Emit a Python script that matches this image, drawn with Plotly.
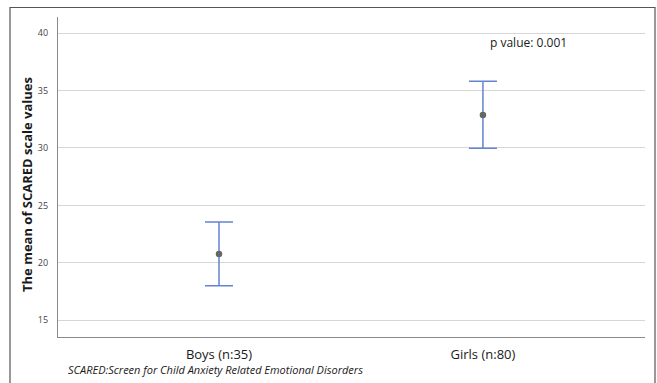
import plotly.graph_objects as go

categories = ["Boys (n:35)", "Girls (n:80)"]
means = [20.78, 32.88]
ci_upper = [23.55, 35.80]
ci_lower = [18.00, 29.97]
y_ticks = [15, 20, 25, 30, 35, 40]
y_title = "The mean of SCARED scale values"
p_text = "p value: 0.001"
note_text = "SCARED:Screen for Child Anxiety Related Emotional Disorders"

err_plus = [u - m for u, m in zip(ci_upper, means)]
err_minus = [m - l for m, l in zip(means, ci_lower)]

FONT = "Open Sans"

fig = go.Figure()
fig.add_trace(go.Scatter(
    x=[0, 1], y=means, mode="markers",
    marker=dict(color="#666666", size=6.5),
    error_y=dict(type="data", symmetric=False, array=err_plus, arrayminus=err_minus,
                 color="#6484cf", thickness=1.5, width=14),
    showlegend=False, hoverinfo="y",
))

L, R, T, B = 58, 12, 17, 46
W, H = 657, 383
pw, ph = W - L - R, H - T - B

def px_x(px):
    return (px - L) / pw

def px_y(py):
    return 1 - (py - T) / ph

fig.update_layout(
    width=W, height=H,
    margin=dict(l=L, r=R, t=T, b=B),
    paper_bgcolor="white", plot_bgcolor="white",
    font=dict(family=FONT, color="#222222"),
    xaxis=dict(
        range=[-0.61, 1.614], tickmode="array", tickvals=[0, 1], ticktext=categories,
        showgrid=False, zeroline=False, showline=True, linecolor="#8a8a8a", linewidth=1.2,
        ticks="outside", ticklen=5, tickcolor="rgba(0,0,0,0)",
        tickfont=dict(size=13, color="#1a1a1a"),
    ),
    yaxis=dict(
        range=[13.55, 41.4], tickmode="array", tickvals=y_ticks,
        showgrid=True, gridcolor="#d6d6d6", gridwidth=1, zeroline=False,
        showline=True, linecolor="#8a8a8a", linewidth=1.2,
        ticks="outside", ticklen=7, tickcolor="rgba(0,0,0,0)",
        tickfont=dict(size=9, color="#444444"),
        automargin=False,
    ),
    annotations=[
        dict(text="<b>" + y_title + "</b>", textangle=-90, x=px_x(27), y=px_y(185),
             xref="paper", yref="paper", xanchor="center", yanchor="middle",
             showarrow=False, font=dict(size=13, color="#1a1a1a")),
        dict(text=p_text, x=px_x(528), y=px_y(42), xref="paper", yref="paper",
             xanchor="center", yanchor="middle",
             showarrow=False, font=dict(size=12, color="#1a1a1a")),
        dict(text="<i>" + note_text + "</i>", x=px_x(66), y=px_y(369), xref="paper", yref="paper",
             xanchor="left", yanchor="middle", showarrow=False, font=dict(size=11, color="#1a1a1a")),
    ],
    shapes=[
        dict(type="rect", xref="paper", yref="paper",
             x0=px_x(10), x1=px_x(655), y0=px_y(395), y1=px_y(7.5),
             line=dict(color="#555555", width=1.2), fillcolor="rgba(0,0,0,0)", layer="below"),
    ],
)

fig.write_html("out.html", config={"displayModeBar": False},
               post_script="document.body.style.margin='0';document.body.style.overflow='hidden';")
